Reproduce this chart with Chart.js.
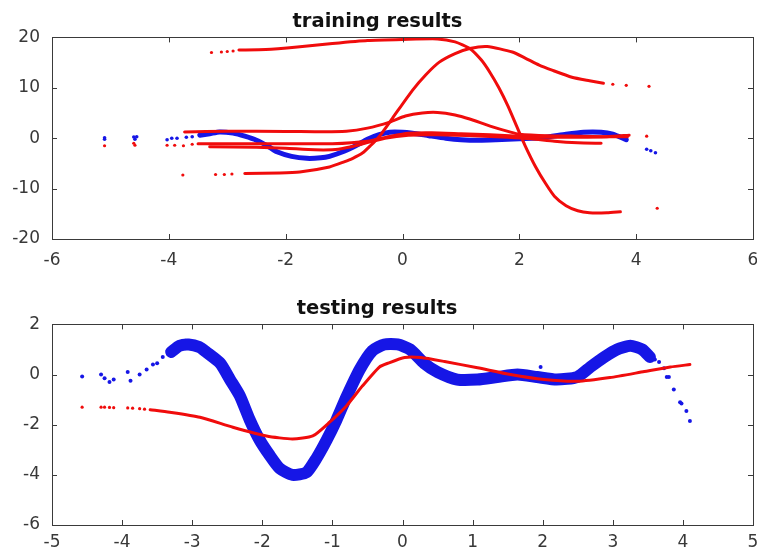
<!DOCTYPE html>
<html>
<head>
<meta charset="utf-8">
<script src="https://cdn.jsdelivr.net/npm/chart.js@4.4.1/dist/chart.umd.min.js"></script>
<style>
  body { margin: 0; background: #fff; }
  canvas { position: absolute; left: 0; }
  #train { top: 0; }
  #test { top: 279px; }
</style>
</head>
<body>
<canvas id="train" width="757" height="279"></canvas>
<canvas id="test" width="757" height="279"></canvas>
<script>
// ---- training subplot ----
const trainXTicks = [-6, -4, -2, 0, 2, 4, 6];
const trainYTicks = [-20, -10, 0, 10, 20];

// training targets (blue)
const trainBlue = [[-3.47,0.6],[-3.3,0.9],[-3.13,1.25],[-2.9,1.0],[-2.7,0.4],[-2.5,-0.4],[-2.3,-1.6],[-2.15,-2.7],
  [-1.9,-3.6],[-1.64,-4.0],[-1.4,-3.9],[-1.25,-3.6],[-1.0,-2.6],[-0.8,-1.5],[-0.6,-0.2],[-0.4,0.7],[-0.22,1.2],
  [0,1.2],[0.17,1.0],[0.45,0.5],[0.74,0.0],[1.0,-0.3],[1.32,-0.4],[1.6,-0.3],[2.0,-0.1],[2.4,0.1],[2.8,0.8],
  [3.1,1.2],[3.4,1.2],[3.6,0.8],[3.83,-0.3]];
const trainBlueDots = [[-5.1,-0.2],[-5.1,0.1],[-4.6,0.25],[-4.58,-0.2],[-4.55,0.3],[-4.03,-0.3],[-3.95,0],
  [-3.86,0],[-3.7,0.2],[-3.6,0.3],[4.18,-2.2],[4.25,-2.5],[4.33,-2.9]];

// training outputs (red), one curve per run
const trainRedA = [[-2.8,17.5],[-2.34,17.6],[-1.8,18.1],[-1.2,18.8],[-0.6,19.4],[0,19.6],[0.6,19.7],[0.9,19.1],
  [1.15,17.8],[1.35,15.5],[1.5,13.0],[1.65,10.0],[1.8,6.5],[1.95,2.5],[2.1,-1.5],[2.28,-5.7],[2.45,-9.0],
  [2.6,-11.5],[2.8,-13.4],[3.0,-14.4],[3.2,-14.8],[3.5,-14.8],[3.73,-14.6]];
const trainRedC = [[-2.7,-7.0],[-2.1,-6.9],[-1.76,-6.7],[-1.25,-5.7],[-1.0,-4.7],[-0.85,-4.0],[-0.68,-2.9],
  [-0.55,-1.5],[-0.4,0.3],[-0.17,4.0],[0.17,9.5],[0.4,12.6],[0.63,15.1],[0.9,16.8],[1.15,17.8],[1.45,18.2],
  [1.88,17.1],[2.1,15.9],[2.34,14.5],[2.56,13.5],[2.9,12.1],[3.2,11.4],[3.44,10.9]];
const trainRedD = [[-3.73,1.25],[-3,1.4],[-2,1.35],[-1.5,1.3],[-0.96,1.4],[-0.6,2.0],[-0.22,3.2],[0.05,4.4],
  [0.34,5.0],[0.6,5.1],[0.9,4.6],[1.15,3.8],[1.5,2.4],[1.85,1.2],[2.0,0.8],[2.5,0.5],[3.0,0.4],[3.5,0.3],[3.85,0.3]];
const trainRedE1 = [[-3.5,-1.1],[-3,-1.1],[-2,-1.1],[-1.2,-1.1],[-0.6,-0.6],[-0.2,0.4],[0.1,1.0],[0.5,1.1],
  [1.0,0.9],[1.5,0.7],[2.0,0.4],[2.5,0.2],[3,0.2],[3.5,0.3],[3.88,0.6]];
const trainRedE2 = [[-3.3,-1.7],[-2.5,-1.8],[-2,-2.0],[-1.5,-2.3],[-1.1,-2.2],[-0.7,-1.2],[-0.3,0.0],[0.1,0.6],
  [0.6,0.7],[1.2,0.5],[1.8,0.2],[2.2,-0.1],[2.6,-0.6],[3.0,-0.9],[3.4,-1.0]];
const trainRedDots = [[-3.27,17.0],[-3.1,17.1],[-3.0,17.2],[-2.9,17.3],[4.36,-13.9],[-3.76,-7.3],[-3.2,-7.2],
  [-3.05,-7.2],[-2.92,-7.1],[3.6,10.7],[3.83,10.5],[4.22,10.3],[-5.1,-1.5],[-4.6,-1.0],[-4.58,-1.4],
  [-4.03,-1.4],[-3.9,-1.4],[-3.75,-1.5],[-3.6,-1.2],[4.18,0.4]];

// ---- testing subplot ----
const testXTicks = [-5, -4, -3, -2, -1, 0, 1, 2, 3, 4, 5];
const testYTicks = [-6, -4, -2, 0, 2];

const testBlueBand = [[-3.3,0.9],[-3.18,1.15],[-3.05,1.2],[-2.9,1.1],[-2.8,0.9],[-2.6,0.45],[-2.46,-0.2],
  [-2.32,-0.85],[-2.18,-1.8],[-2.04,-2.6],[-1.9,-3.2],[-1.75,-3.75],[-1.57,-4.0],[-1.37,-3.9],[-1.23,-3.35],
  [-1.08,-2.6],[-0.94,-1.8],[-0.8,-0.9],[-0.61,0.2],[-0.43,0.95],[-0.26,1.2],[-0.07,1.2],[0.11,1.0],[0.31,0.45],
  [0.5,0.1],[0.78,-0.2],[1.07,-0.2],[1.35,-0.1],[1.64,0.0],[1.92,-0.1],[2.2,-0.2],[2.49,-0.1],[2.68,0.3],
  [2.88,0.7],[3.06,1.0],[3.25,1.15],[3.42,1.0],[3.53,0.7]];
const testBlueDots = [[-4.57,-0.08],[-4.3,0],[-4.25,-0.15],[-4.18,-0.3],[-4.12,-0.2],[-3.92,0.1],[-3.88,-0.25],
  [-3.75,0],[-3.65,0.2],[-3.56,0.4],[-3.5,0.45],[-3.42,0.7],[-3.35,0.95],[-3.28,1.1],[-3.1,1.35],[3.6,0.6],
  [3.66,0.5],[3.73,0.25],[3.77,-0.1],[3.8,-0.1],[3.87,-0.6],[3.96,-1.1],[3.98,-1.15],[4.05,-1.45],[4.1,-1.85],
  [1.97,0.3]];

const testRed = [[-3.6,-1.4],[-3.32,-1.5],[-2.89,-1.7],[-2.42,-2.1],[-1.94,-2.45],[-1.57,-2.57],[-1.28,-2.45],
  [-1.04,-1.9],[-0.8,-1.25],[-0.57,-0.45],[-0.33,0.3],[-0.21,0.45],[0.03,0.68],[0.26,0.68],[0.6,0.52],
  [1.07,0.27],[1.54,0],[2.02,-0.2],[2.49,-0.27],[2.96,-0.12],[3.45,0.12],[3.82,0.3],[4.1,0.4]];
const testRedDots = [[-4.57,-1.3],[-4.3,-1.3],[-4.25,-1.3],[-4.18,-1.31],[-4.12,-1.32],[-3.92,-1.33],
  [-3.85,-1.34],[-3.75,-1.36],[-3.68,-1.38]];

const RED = 'rgb(240,12,12)';
const BLUE = 'rgb(22,22,230)';
const FONT = 'DejaVu Sans';

const pts = arr => arr.map(p => ({x: p[0], y: p[1]}));

function curve(arr, color, width) {
  return { data: pts(arr), showLine: true, borderColor: color, borderWidth: width,
    pointRadius: 0, borderCapStyle: 'round', borderJoinStyle: 'round', tension: 0.2 };
}
function dots(arr, color, r) {
  return { data: pts(arr), showLine: false, backgroundColor: color, borderWidth: 0, pointRadius: r };
}

// box round the axes with inward ticks on all four sides
const boxTicks = {
  id: 'boxTicks',
  afterDatasetsDraw(chart) {
    const {ctx, chartArea: a, scales: {x, y}} = chart;
    ctx.save();
    ctx.strokeStyle = '#3a3a3a';
    ctx.lineWidth = 1;
    ctx.beginPath();
    x.ticks.forEach(t => {
      const px = Math.round(x.getPixelForValue(t.value)) + 0.5;
      ctx.moveTo(px, a.bottom); ctx.lineTo(px, a.bottom - 5);
      ctx.moveTo(px, a.top); ctx.lineTo(px, a.top + 5);
    });
    y.ticks.forEach(t => {
      const py = Math.round(y.getPixelForValue(t.value)) + 0.5;
      ctx.moveTo(a.left, py); ctx.lineTo(a.left + 5, py);
      ctx.moveTo(a.right, py); ctx.lineTo(a.right - 5, py);
    });
    ctx.stroke();
    ctx.strokeRect(Math.round(a.left) + 0.5, Math.round(a.top) + 0.5,
      Math.round(a.right - a.left), Math.round(a.bottom - a.top));
    ctx.restore();
  }
};

function makeChart(id, title, datasets, xTicks, yTicks, o) {
  const stepX = xTicks[1] - xTicks[0];
  const stepY = yTicks[1] - yTicks[0];
  return new Chart(document.getElementById(id), {
    type: 'scatter',
    data: { datasets },
    options: {
      responsive: false,
      animation: false,
      layout: { padding: { left: 0, right: o.right, top: 0, bottom: 0 } },
      plugins: {
        legend: { display: false },
        tooltip: { enabled: false },
        title: { display: true, text: title, color: '#111',
          font: { family: FONT, size: 19.5, weight: 'bold' },
          padding: { top: o.titleTop, bottom: o.titleBottom } }
      },
      scales: {
        x: {
          type: 'linear', min: xTicks[0], max: xTicks[xTicks.length - 1],
          grid: { display: false, drawTicks: false },
          border: { display: false },
          ticks: { stepSize: stepX, color: '#383838', padding: o.xPad, font: { family: FONT, size: 17 } },
          afterFit(s) { s.height = o.xHeight; s.paddingLeft = 0; s.paddingRight = 0; }
        },
        y: {
          type: 'linear', min: yTicks[0], max: yTicks[yTicks.length - 1],
          grid: { display: false, drawTicks: false },
          border: { display: false },
          ticks: { stepSize: stepY, color: '#383838', padding: 12, font: { family: FONT, size: 17 } },
          afterFit(s) { s.width = 52; s.paddingTop = 0; s.paddingBottom = 0; }
        }
      }
    },
    plugins: [boxTicks]
  });
}

makeChart('train', 'training results', [
  curve(trainRedA, RED, 3),
  curve(trainRedC, RED, 3),
  curve(trainRedD, RED, 3),
  curve(trainRedE1, RED, 3),
  curve(trainRedE2, RED, 3),
  dots(trainRedDots, RED, 1.6),
  curve(trainBlue, BLUE, 5),
  dots(trainBlueDots, BLUE, 1.8)
], trainXTicks, trainYTicks, { right: 2, titleTop: 10, titleBottom: 4, xHeight: 40, xPad: 11 });

makeChart('test', 'testing results', [
  curve(testRed, RED, 3),
  dots(testRedDots, RED, 1.6),
  curve(testBlueBand, BLUE, 12),
  dots(testBlueDots, BLUE, 2)
], testXTicks, testYTicks, { right: 3, titleTop: 18, titleBottom: 4, xHeight: 33, xPad: 7 });
</script>
</body>
</html>
